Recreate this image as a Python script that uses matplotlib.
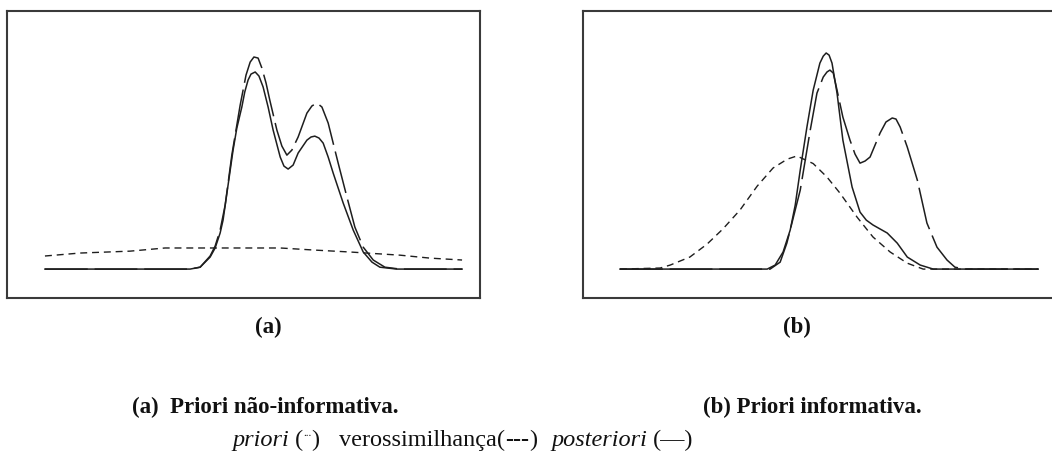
import matplotlib
matplotlib.use("Agg")
import matplotlib.pyplot as plt

# support runs 0-100 on both panels, heights are unnormalised densities

# (a) non-informative prior
xa_prior = [0, 8.4, 20.4, 28.8, 40.8, 56.4, 64.7, 73.1, 85.1, 92.3, 100]
ya_prior = [0.062, 0.076, 0.085, 0.100, 0.100, 0.100, 0.090, 0.081, 0.066, 0.052, 0.043]

xa_lik = [0, 34.8, 37.2, 39.6, 40.8, 42.0, 43.2, 44.8, 46.8, 48.2, 49.2, 50.1, 51.1,
          52.0, 53.0, 53.9, 55.6, 56.8, 58.0, 59.2, 60.7, 62.8, 64.0, 65.2, 66.4,
          67.9, 70.3, 72.4, 74.3, 76.3, 78.7, 81.5, 85.1, 100]
ya_lik = [0, 0, 0.009, 0.062, 0.109, 0.185, 0.303, 0.540, 0.777, 0.919, 0.981, 1.005,
          1.000, 0.953, 0.882, 0.801, 0.659, 0.583, 0.540, 0.564, 0.626, 0.739, 0.773,
          0.787, 0.768, 0.692, 0.502, 0.341, 0.199, 0.104, 0.043, 0.009, 0, 0]

xa_post = [0, 34.8, 37.2, 39.6, 40.8, 42.0, 42.7, 43.9, 45.1, 46.0, 47.2, 47.9, 48.7,
           49.4, 50.4, 51.3, 52.3, 53.5, 54.7, 56.4, 57.3, 58.3, 59.5, 60.7, 62.8,
           63.8, 64.7, 65.7, 66.7, 67.9, 69.1, 71.5, 73.9, 76.3, 78.4, 80.3, 84.4, 100]
ya_post = [0, 0, 0.009, 0.057, 0.100, 0.171, 0.232, 0.398, 0.564, 0.668, 0.768, 0.839,
           0.896, 0.924, 0.934, 0.915, 0.863, 0.768, 0.659, 0.531, 0.488, 0.474, 0.493,
           0.550, 0.611, 0.626, 0.630, 0.621, 0.597, 0.531, 0.455, 0.313, 0.185, 0.081,
           0.033, 0.009, 0, 0]

# (b) informative prior
xb_prior = [0, 9.6, 12.0, 16.7, 20.8, 24.6, 28.7, 32.8, 36.6, 40.0, 42.3, 46.2, 49.5,
            52.6, 56.7, 60.5, 64.6, 68.7, 72.5, 100]
yb_prior = [0, 0.005, 0.019, 0.057, 0.118, 0.190, 0.280, 0.393, 0.479, 0.521, 0.536,
            0.500, 0.436, 0.360, 0.246, 0.152, 0.081, 0.028, 0, 0]

xb_lik = [0, 35.9, 38.3, 39.9, 43.1, 45.5, 47.1, 48.6, 49.5, 50.2, 51.0, 51.9, 53.3,
          55.0, 56.2, 57.4, 58.6, 59.8, 62.2, 63.6, 65.1, 66.0, 67.0, 68.7, 71.1,
          73.4, 75.8, 78.2, 80.1, 82.5, 100]
yb_lik = [0, 0, 0.033, 0.123, 0.374, 0.659, 0.834, 0.910, 0.934, 0.943, 0.929, 0.848,
          0.720, 0.611, 0.545, 0.502, 0.512, 0.531, 0.645, 0.697, 0.716, 0.711, 0.673,
          0.578, 0.422, 0.218, 0.104, 0.043, 0.009, 0, 0]

xb_post = [0, 35.2, 37.1, 39.0, 40.7, 41.9, 43.1, 44.7, 46.2, 47.8, 48.6, 49.3, 50.0,
           50.7, 51.9, 53.3, 55.5, 57.4, 58.9, 60.5, 62.2, 63.9, 66.3, 68.7, 71.8, 74.9, 100]
yb_post = [0, 0, 0.019, 0.081, 0.185, 0.303, 0.469, 0.673, 0.848, 0.976, 1.009, 1.024,
           1.014, 0.976, 0.834, 0.611, 0.389, 0.270, 0.232, 0.209, 0.190, 0.171, 0.123,
           0.057, 0.019, 0, 0]

panel_labels = ["(a)", "(b)"]
caption_a = "(a)  Priori não-informativa."
caption_b = "(b) Priori informativa."

SERIF = ["Liberation Serif", "DejaVu Serif"]
INK = "#1e1e1e"

fig = plt.figure(figsize=(10.52, 4.58), dpi=100)
W, H = 1052, 458


def px_axes(left, top, right, bottom):
    return fig.add_axes([left / W, (H - bottom) / H, (right - left) / W, (bottom - top) / H])


ax_a = px_axes(7, 11, 480, 298)
ax_b = px_axes(583, 11, 1062, 298)

panels = [
    (ax_a, (xa_prior, ya_prior), (xa_lik, ya_lik), (xa_post, ya_post), (-9.1, 104.3)),
    (ax_b, (xb_prior, yb_prior), (xb_lik, yb_lik), (xb_post, yb_post), (-8.85, 105.7)),
]

for ax, prior, lik, post, xlim in panels:
    ax.plot(*post, color=INK, lw=1.1, solid_joinstyle="round")
    ax.plot(*lik, color=INK, lw=1.1, linestyle=(0, (28, 4.5)), dash_joinstyle="round")
    ax.plot(*prior, color=INK, lw=1.0, linestyle=(0, (5, 3.5)))
    ax.set_xlim(*xlim)
    ax.set_ylim(-0.137, 1.223)
    ax.set_xticks([])
    ax.set_yticks([])
    for sp in ax.spines.values():
        sp.set_color("#3a3a3a")
        sp.set_linewidth(1.5)

# panel letters under each box
fig.text(268 / W, (H - 333) / H, panel_labels[0], ha="center", va="baseline",
         family=SERIF, weight="bold", fontsize=16.5, color="#111111")
fig.text(797 / W, (H - 333) / H, panel_labels[1], ha="center", va="baseline",
         family=SERIF, weight="bold", fontsize=16.5, color="#111111")

# caption, first line
fig.text(132 / W, (H - 413) / H, caption_a, ha="left", va="baseline",
         family=SERIF, weight="bold", fontsize=16.5, color="#111111")
fig.text(703 / W, (H - 413) / H, caption_b, ha="left", va="baseline",
         family=SERIF, weight="bold", fontsize=16.5, color="#111111")

# caption, second line: pieces laid out one after the other
renderer = fig.canvas.get_renderer()
pieces = [
    ("priori", dict(style="italic", fontsize=17.5), 0, 6),
    ("(", dict(fontsize=17.5), 0, 0),
    ("...", dict(fontsize=8), 10, 0),
    (")", dict(fontsize=17.5), 0, 20),
    ("verossimilhança(", dict(fontsize=17.5), 0, 0),
    ("---", dict(fontsize=17.5, weight="bold"), 0, 0),
    (")", dict(fontsize=17.5), 0, 14),
    ("posteriori", dict(style="italic", fontsize=17.5), 0, 6),
    ("(—)", dict(fontsize=17.5), 0, 0),
]
x = 232.0
base = H - 446
for s, kw, dy, gap in pieces:
    t = fig.text(x / W, (base + dy) / H, s, ha="left", va="baseline",
                 family=SERIF, color="#111111", **kw)
    x += t.get_window_extent(renderer).width + gap

fig.savefig("out.png", dpi=100)
